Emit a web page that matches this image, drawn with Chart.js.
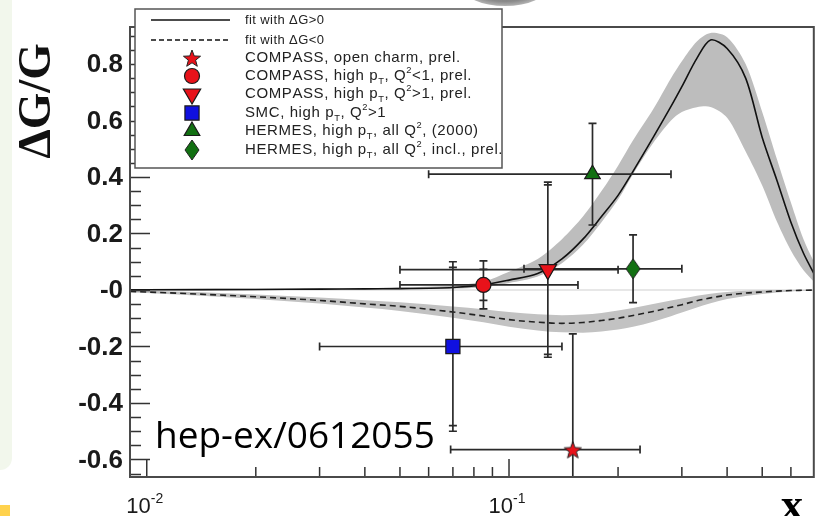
<!DOCTYPE html>
<html>
<head>
<meta charset="utf-8">
<script src="https://cdn.jsdelivr.net/npm/chart.js@4.4.0/dist/chart.umd.min.js"></script>
<style>
html, body { margin: 0; padding: 0; background: #fff; overflow: hidden; }
#wrap { position: relative; width: 825px; height: 516px; }
#side { position: absolute; left: 0; top: 0; width: 12px; height: 470px; background: #f2f7ec; border-bottom-right-radius: 14px; }
#tab { position: absolute; left: 0; top: 505px; width: 10px; height: 11px; background: #ffd24d; }
#blob { position: absolute; left: 462px; top: -34px; width: 86px; height: 40px; border-radius: 50%;
  background: radial-gradient(ellipse at center, #6a6a6a 0%, #8a8a8a 55%, rgba(255,255,255,0) 100%); }
canvas { position: absolute; left: 0; top: 0; }
</style>
</head>
<body>
<div id="wrap">
  <div id="side"></div>
  <div id="tab"></div>
  <canvas id="c" width="825" height="516"></canvas>
  <div id="blob"></div>
</div>
<script>
// fit curves (x grid shared by all curve arrays)
const fitX   = [0.009, 0.01, 0.02, 0.03, 0.04, 0.05, 0.07, 0.085, 0.1, 0.12, 0.14, 0.16, 0.18, 0.2, 0.22, 0.25, 0.28, 0.3, 0.33, 0.36, 0.4, 0.45, 0.5, 0.55, 0.6, 0.65, 0.7];
const posFit = [0.001, 0.001, 0.002, 0.003, 0.004, 0.005, 0.009, 0.018, 0.035, 0.058, 0.11, 0.18, 0.26, 0.335, 0.42, 0.54, 0.65, 0.72, 0.82, 0.885, 0.855, 0.75, 0.54, 0.385, 0.24, 0.13, 0.05];
const posHi  = [0.003, 0.003, 0.004, 0.005, 0.007, 0.009, 0.016, 0.03, 0.065, 0.11, 0.18, 0.26, 0.35, 0.44, 0.53, 0.64, 0.75, 0.81, 0.88, 0.91, 0.895, 0.8, 0.63, 0.46, 0.31, 0.18, 0.09];
const posLo  = [-0.001, -0.001, 0, 0.001, 0.002, 0.002, 0.005, 0.01, 0.025, 0.048, 0.095, 0.16, 0.24, 0.32, 0.41, 0.52, 0.6, 0.63, 0.647, 0.648, 0.61, 0.49, 0.37, 0.24, 0.14, 0.07, 0.025];
const negFit = [-0.005, -0.007, -0.024, -0.037, -0.049, -0.058, -0.078, -0.092, -0.105, -0.114, -0.118, -0.115, -0.108, -0.1, -0.09, -0.076, -0.061, -0.052, -0.038, -0.028, -0.018, -0.011, -0.007, -0.004, -0.002, -0.001, 0];
const negHi  = [-0.002, -0.003, -0.016, -0.027, -0.036, -0.043, -0.058, -0.068, -0.078, -0.086, -0.089, -0.087, -0.081, -0.073, -0.064, -0.05, -0.037, -0.03, -0.02, -0.013, -0.007, -0.003, -0.001, 0, 0, 0, 0];
const negLo  = [-0.008, -0.011, -0.032, -0.048, -0.062, -0.074, -0.098, -0.114, -0.13, -0.143, -0.15, -0.151, -0.147, -0.14, -0.13, -0.112, -0.093, -0.08, -0.062, -0.047, -0.032, -0.021, -0.014, -0.009, -0.005, -0.003, -0.001];

// measurements
const ptNames = ['COMPASS, open charm, prel.', 'COMPASS, high p_T, Q^2<1, prel.', 'COMPASS, high p_T, Q^2>1, prel.',
                 'SMC, high p_T, Q^2>1', 'HERMES, high p_T, all Q^2, (2000)', 'HERMES, high p_T, all Q^2, incl., prel.'];
const ptX    = [0.15, 0.085, 0.128, 0.07, 0.17, 0.22];
const ptY    = [-0.565, 0.018, 0.072, -0.2, 0.41, 0.075];
const ptXLo  = [0.069, 0.05, 0.05, 0.03, 0.06, 0.11];
const ptXHi  = [0.23, 0.155, 0.2, 0.14, 0.28, 0.30];
const ptStat = [0.41, 0.055, 0.30, 0.28, 0.18, 0.12];
const ptTot  = [0.41, 0.085, 0.31, 0.30, 0.18, 0.12];

const fitNames = ['fit with \u0394G>0', 'fit with \u0394G<0'];

// ticks
const yMajor = [-0.6, -0.4, -0.2, 0, 0.2, 0.4, 0.6, 0.8];
const yLabels = ['-0.6', '-0.4', '-0.2', '-0', '0.2', '0.4', '0.6', '0.8'];
const xMajor = [0.01, 0.1];
const xExp = ['-2', '-1'];
const xMinor = [0.02, 0.03, 0.04, 0.05, 0.06, 0.07, 0.08, 0.09, 0.2, 0.3, 0.4, 0.5, 0.6];

const RED = '#e8121a', BLUE = '#1010e0', GREEN = '#127012';

function starImg(size, fill) {
  const c = document.createElement('canvas');
  c.width = c.height = size;
  const g = c.getContext('2d');
  const r = size / 2 - 1, cx = size / 2, cy = size / 2 + 1;
  g.beginPath();
  for (let i = 0; i < 10; i++) {
    const a = -Math.PI / 2 + i * Math.PI / 5;
    const rr = i % 2 ? r * 0.42 : r;
    g.lineTo(cx + rr * Math.cos(a), cy + rr * Math.sin(a));
  }
  g.closePath();
  g.fillStyle = fill; g.fill();
  g.strokeStyle = '#222'; g.lineWidth = 1; g.stroke();
  return c;
}
function diamondImg(w, h, fill) {
  const c = document.createElement('canvas');
  c.width = w; c.height = h;
  const g = c.getContext('2d');
  g.beginPath();
  g.moveTo(w / 2, 1); g.lineTo(w - 1, h / 2); g.lineTo(w / 2, h - 1); g.lineTo(1, h / 2);
  g.closePath();
  g.fillStyle = fill; g.fill();
  g.strokeStyle = '#222'; g.lineWidth = 1; g.stroke();
  return c;
}

const ptStyle  = [starImg(20, RED), 'circle', 'triangle', 'rect', 'triangle', diamondImg(16, 22, GREEN)];
const ptRadius = [9, 7.5, 10, 10, 9, 9];
const ptRot    = [0, 0, 180, 0, 0, 0];
const ptColor  = [RED, RED, RED, BLUE, GREEN, GREEN];

const xy = (xs, ys) => xs.map((x, i) => ({ x: x, y: ys[i] }));

const datasets = [];
ptX.forEach((x, i) => {
  datasets.push({
    label: ptNames[i], data: [{ x: x, y: ptY[i] }],
    pointStyle: ptStyle[i], pointRadius: ptRadius[i], pointRotation: ptRot[i],
    backgroundColor: ptColor[i], borderColor: '#1a1a1a', borderWidth: 1.2, showLine: false
  });
});
datasets.push({ label: fitNames[0], data: xy(fitX, posFit), showLine: true, pointRadius: 0,
  borderColor: '#111', borderWidth: 1.6, tension: 0.3, fill: false });
datasets.push({ label: fitNames[1], data: xy(fitX, negFit), showLine: true, pointRadius: 0,
  borderColor: '#222', borderWidth: 1.6, borderDash: [6, 4], cubicInterpolationMode: 'monotone', fill: false });
datasets.push({ label: 'bandPosHi', data: xy(fitX, posHi), showLine: true, pointRadius: 0, borderWidth: 0,
  borderColor: 'rgba(0,0,0,0)', backgroundColor: '#bdbdbd', tension: 0.3, fill: '+1' });
datasets.push({ label: 'bandPosLo', data: xy(fitX, posLo), showLine: true, pointRadius: 0, borderWidth: 0,
  borderColor: 'rgba(0,0,0,0)', tension: 0.3, fill: false });
datasets.push({ label: 'bandNegHi', data: xy(fitX, negHi), showLine: true, pointRadius: 0, borderWidth: 0,
  borderColor: 'rgba(0,0,0,0)', backgroundColor: '#c2c2c2', cubicInterpolationMode: 'monotone', fill: '+1' });
datasets.push({ label: 'bandNegLo', data: xy(fitX, negLo), showLine: true, pointRadius: 0, borderWidth: 0,
  borderColor: 'rgba(0,0,0,0)', cubicInterpolationMode: 'monotone', fill: false });

function drawMarker(ctx, i, x, y) {
  ctx.save();
  ctx.fillStyle = ptColor[i];
  ctx.strokeStyle = '#1a1a1a';
  ctx.lineWidth = 1.2;
  Chart.helpers.drawPoint(ctx, { pointStyle: ptStyle[i], radius: ptRadius[i], rotation: ptRot[i], borderWidth: 1.2 }, x, y);
  ctx.restore();
}

// text with _X subscripts and ^X superscripts
function richText(ctx, s, x, y, size, spacing) {
  let cx = x;
  for (let i = 0; i < s.length; i++) {
    let ch = s[i], dy = 0, sz = size;
    if ((ch === '_' || ch === '^') && i + 1 < s.length) {
      dy = ch === '_' ? size * 0.35 : -size * 0.4;
      sz = size * 0.62;
      ch = s[++i];
    }
    ctx.font = sz + 'px "Liberation Sans", Arial, sans-serif';
    ctx.fillText(ch, cx, y + dy);
    cx += ctx.measureText(ch).width + spacing;
  }
}

const rootPlugin = {
  id: 'rootStyle',
  beforeDatasetsDraw(chart) {
    const { ctx, chartArea: a, scales: { y } } = chart;
    ctx.save();
    ctx.strokeStyle = '#cfcfcf';
    ctx.lineWidth = 1.2;
    ctx.beginPath();
    ctx.moveTo(a.left, y.getPixelForValue(0));
    ctx.lineTo(a.right, y.getPixelForValue(0));
    ctx.stroke();
    ctx.restore();
  },
  afterDatasetDraw(chart, args) {
    if (args.index !== ptX.length) return;
    const { ctx, chartArea: a, scales: { x, y } } = chart;
    ctx.save();
    ctx.beginPath();
    ctx.rect(a.left, a.top, a.right - a.left, a.bottom - a.top);
    ctx.clip();
    ctx.strokeStyle = '#2a2a2a';
    ctx.lineWidth = 1.7;
    const cap = 4;
    ptX.forEach((v, i) => {
      const px = x.getPixelForValue(v), py = y.getPixelForValue(ptY[i]);
      const l = x.getPixelForValue(ptXLo[i]), r = x.getPixelForValue(ptXHi[i]);
      ctx.beginPath();
      ctx.moveTo(l, py); ctx.lineTo(r, py);
      ctx.moveTo(l, py - cap); ctx.lineTo(l, py + cap);
      ctx.moveTo(r, py - cap); ctx.lineTo(r, py + cap);
      [ptStat[i], ptTot[i]].forEach(e => {
        const t = y.getPixelForValue(ptY[i] + e), b = y.getPixelForValue(ptY[i] - e);
        ctx.moveTo(px, t); ctx.lineTo(px, b);
        ctx.moveTo(px - cap, t); ctx.lineTo(px + cap, t);
        ctx.moveTo(px - cap, b); ctx.lineTo(px + cap, b);
      });
      ctx.stroke();
    });
    ctx.restore();
  },
  afterDraw(chart) {
    const { ctx, chartArea: a, scales: { x, y } } = chart;
    ctx.save();
    // ticks
    ctx.strokeStyle = '#333';
    ctx.lineWidth = 1.5;
    ctx.beginPath();
    for (let v = -0.65; v <= 0.9001; v += 0.05) {
      const py = Math.round(y.getPixelForValue(v)) + 0.5;
      const major = yMajor.some(m => Math.abs(m - v) < 1e-6);
      ctx.moveTo(a.left, py); ctx.lineTo(a.left + (major ? 20 : 11), py);
    }
    xMajor.forEach(v => { const px = x.getPixelForValue(v); ctx.moveTo(px, a.bottom); ctx.lineTo(px, a.bottom - 18); });
    xMinor.forEach(v => { const px = x.getPixelForValue(v); ctx.moveTo(px, a.bottom); ctx.lineTo(px, a.bottom - 10); });
    ctx.stroke();
    // frame
    ctx.strokeStyle = '#4a4a4a';
    ctx.lineWidth = 2;
    ctx.strokeRect(a.left, a.top, a.right - a.left, a.bottom - a.top);

    // tick labels
    ctx.fillStyle = '#1a1a1a';
    ctx.font = 'bold 26px "Liberation Sans", Arial, sans-serif';
    ctx.textAlign = 'right';
    ctx.textBaseline = 'middle';
    yMajor.forEach((v, i) => ctx.fillText(yLabels[i], 123, y.getPixelForValue(v) + 1));
    ctx.textBaseline = 'alphabetic';
    xMajor.forEach((v, i) => {
      const px = x.getPixelForValue(v);
      ctx.font = '22px "Liberation Sans", Arial, sans-serif';
      const w1 = ctx.measureText('10').width;
      ctx.font = '14px "Liberation Sans", Arial, sans-serif';
      const w2 = ctx.measureText(xExp[i]).width;
      const x0 = px - 2 - (w1 + w2) / 2;
      ctx.textAlign = 'left';
      ctx.font = '22px "Liberation Sans", Arial, sans-serif';
      ctx.fillText('10', x0, 513);
      ctx.font = '14px "Liberation Sans", Arial, sans-serif';
      ctx.fillText(xExp[i], x0 + w1, 503);
    });

    // legend box
    ctx.fillStyle = '#fff';
    ctx.fillRect(135, 9, 367, 159);
    ctx.strokeStyle = '#555';
    ctx.lineWidth = 1.5;
    ctx.strokeRect(135, 9, 367, 159);
    ctx.strokeStyle = '#111';
    ctx.lineWidth = 1.3;
    ctx.beginPath(); ctx.moveTo(151, 20); ctx.lineTo(230, 20); ctx.stroke();
    ctx.setLineDash([5, 3]);
    ctx.beginPath(); ctx.moveTo(151, 40); ctx.lineTo(230, 40); ctx.stroke();
    ctx.setLineDash([]);
    ctx.fillStyle = '#222';
    ctx.textAlign = 'left';
    ctx.textBaseline = 'middle';
    richText(ctx, fitNames[0], 245, 20, 13, 0.4);
    richText(ctx, fitNames[1], 245, 40, 13, 0.4);
    const rows = [58, 76, 94, 113, 131, 150];
    ptNames.forEach((n, i) => {
      drawMarker(ctx, i, 192, rows[i]);
      ctx.fillStyle = '#222';
      ctx.textBaseline = 'middle';
      richText(ctx, n, 245, rows[i], 15, 0.6);
    });

    // axis title
    ctx.save();
    ctx.translate(38, 101);
    ctx.rotate(-Math.PI / 2);
    ctx.fillStyle = '#111';
    ctx.font = 'bold 47px "Liberation Serif", "Times New Roman", serif';
    ctx.textAlign = 'center';
    ctx.textBaseline = 'middle';
    ctx.fillText('\u0394G/G', 0, 0);
    ctx.restore();

    // annotation and x title
    ctx.fillStyle = '#000';
    ctx.textAlign = 'left';
    ctx.textBaseline = 'alphabetic';
    ctx.font = '37px "Open Sans", "Noto Sans", sans-serif';
    ctx.fillText('hep-ex/0612055', 155, 448);
    ctx.font = 'bold 44px "Liberation Serif", "Times New Roman", serif';
    ctx.fillText('x', 781, 519);
    ctx.restore();
  }
};

new Chart(document.getElementById('c'), {
  type: 'scatter',
  data: { datasets: datasets },
  options: {
    responsive: false,
    animation: false,
    layout: { padding: { left: 130, right: 4, top: 27, bottom: 39 } },
    plugins: { legend: { display: false }, tooltip: { enabled: false } },
    scales: {
      x: { type: 'logarithmic', min: 0.00899, max: 0.694, display: false },
      y: { type: 'linear', min: -0.662, max: 0.931, display: false }
    }
  },
  plugins: [rootPlugin]
});
</script>
</body>
</html>
